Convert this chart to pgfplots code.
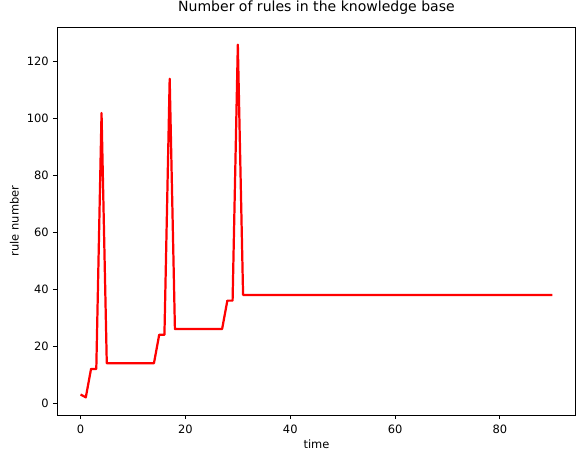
\documentclass[border=0pt]{standalone}
\usepackage{fontspec}
\setmainfont{DejaVu Sans}
\usepackage{pgfplots}
\pgfplotsset{compat=1.18}

\begin{document}
\begin{tikzpicture}
\begin{axis}[
    scale only axis,
    width=443.6pt, height=331.6pt,
    title={Number of rules in the knowledge base},
    title style={font=\fontsize{12}{14}\selectfont, yshift=1.1pt},
    xlabel={time},
    ylabel={rule number},
    label style={font=\fontsize{9.8}{12}\selectfont},
    xlabel style={inner sep=1pt, yshift=-0.6pt},
    ticklabel style={font=\fontsize{9.8}{12}\selectfont},
    xticklabel style={yshift=-1.5pt},
    /pgf/number format/assume math mode=true,
    xmin=-4.5, xmax=94.5,
    ymin=-4.2, ymax=132.2,
    xtick={0,20,40,60,80},
    ytick={0,20,40,60,80,100,120},
    tick align=outside,
    tick pos=left,
    major tick length=3.5pt,
    axis line style={line width=0.8pt},
    every tick/.style={black, line width=0.8pt},
]
\addplot[color=red, line width=1.9pt, line join=round] coordinates {
    (0,3)(1,2)(2,12)(3,12)(4,102)(5,14)(6,14)(7,14)(8,14)(9,14)(10,14)
    (11,14)(12,14)(13,14)(14,14)(15,24)(16,24)(17,114)(18,26)(19,26)(20,26)
    (21,26)(22,26)(23,26)(24,26)(25,26)(26,26)(27,26)(28,36)(29,36)(30,126)
    (31,38)(40,38)(50,38)(60,38)(70,38)(80,38)(90,38)
};
\end{axis}
\pgfresetboundingbox
\path ([shift={(-48.7pt,-30.8pt)}]current axis.south west)
    rectangle ([shift={(0.9pt,23.1pt)}]current axis.north east);
\end{tikzpicture}
\end{document}
